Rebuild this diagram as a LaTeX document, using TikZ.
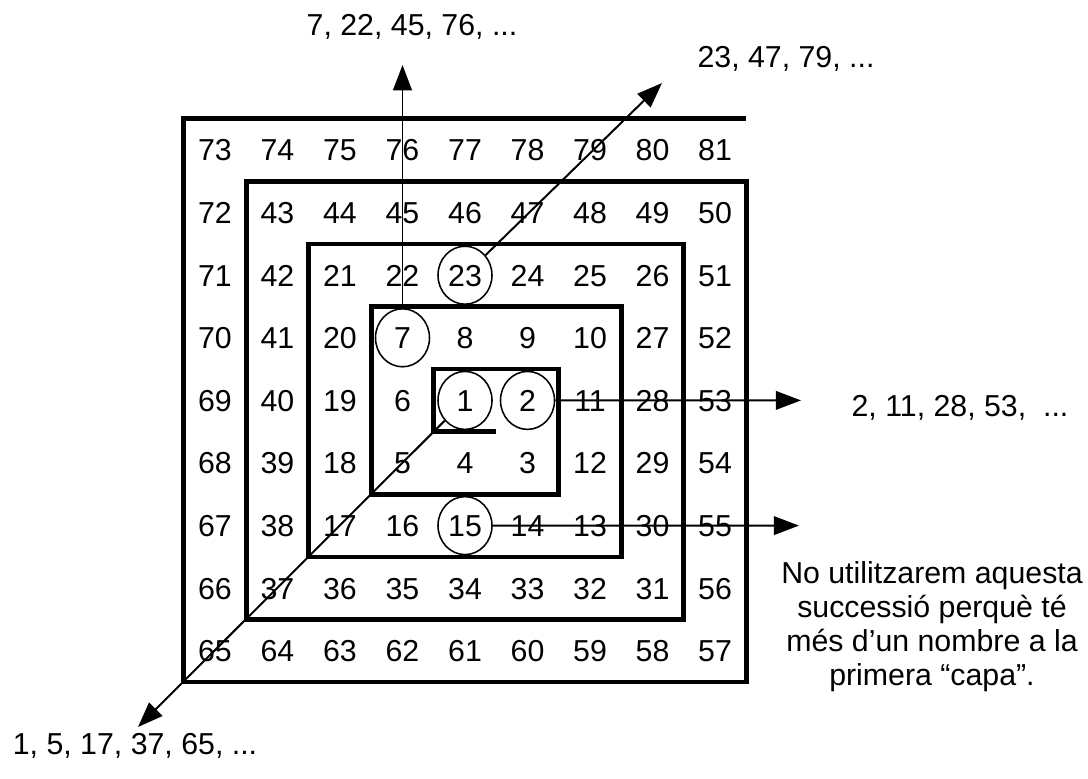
\documentclass[tikz,border=0pt]{standalone}
\usepackage{fontspec}
\setmainfont{Liberation Sans}
\usetikzlibrary{arrows.meta,shapes.geometric}
\begin{document}
\begin{tikzpicture}[x=0.016cm,y=-0.016cm,
  every node/.style={font=\fontsize{13.8pt}{15.5pt}\selectfont},
  num/.style={inner sep=0pt,text height=9.9pt,text depth=0pt},
  ring/.style={draw,ellipse,line width=0.7pt,minimum width=24.6pt,minimum height=26.4pt,inner sep=0pt},
  spiral/.style={line width=2.1pt,line join=miter},
  seqarrow/.style={line width=0.9pt,-{Triangle[length=11.5pt,width=8.5pt]}},
  label/.style={inner sep=0pt,text height=9.9pt,text depth=0pt}]
\useasboundingbox (0,0) rectangle (1088,778);
% grid numbers
\foreach \row [count=\r from 0] in {
  {73,74,75,76,77,78,79,80,81},
  {72,43,44,45,46,47,48,49,50},
  {71,42,21,22,23,24,25,26,51},
  {70,41,20,7,8,9,10,27,52},
  {69,40,19,6,1,2,11,28,53},
  {68,39,18,5,4,3,12,29,54},
  {67,38,17,16,15,14,13,30,55},
  {66,37,36,35,34,33,32,31,56},
  {65,64,63,62,61,60,59,58,57}}{
  \foreach \v [count=\c from 0] in \row {
    \node[num] (n\v) at ({215+62.5*\c},{150+62.6*\r}) {\v};
  }
}
% spiral
\draw[spiral] (496.25,431.7) -- (433.75,431.7) -- (433.75,369.1) -- (558.75,369.1)
  -- (558.75,494.3) -- (371.25,494.3) -- (371.25,306.5) -- (621.25,306.5)
  -- (621.25,556.9) -- (308.75,556.9) -- (308.75,243.9) -- (683.75,243.9)
  -- (683.75,619.5) -- (246.25,619.5) -- (246.25,181.3) -- (746.25,181.3)
  -- (746.25,682.1) -- (183.75,682.1) -- (183.75,118.7) -- (746.25,118.7);
% circles
\node[ring] (c1) at (n1) {};
\node[ring] (c2) at (n2) {};
\node[ring] (c7) at (n7) {};
\node[ring] (c23) at (n23) {};
\node[ring] (c15) at (n15) {};
% arrow ends
\coordinate (t7) at (402.5,65);
\coordinate (t23) at (662,83);
\coordinate (t2) at (801,400.4);
\coordinate (t15) at (799,525.6);
\coordinate (t1) at (138,727);
\draw[seqarrow] (c7) -- (t7);
\draw[seqarrow] (c23) -- (t23);
\draw[seqarrow] (c2) -- (t2);
\draw[seqarrow] (c15) -- (t15);
\draw[seqarrow] (c1) -- (t1);
% labels
\node[label] (l7) at (412,25) {7, 22, 45, 76, ...};
\node[label] (l23) at (786,57) {23, 47, 79, ...};
\node[label] (l2) at (960,406) {2, 11, 28, 53,\ \ ...};
\node[label] (l1) at (135,744) {1, 5, 17, 37, 65, ...};
\node[align=center,inner sep=0pt] (note) at (932,627) {No utilitzarem aquesta\\successió perquè té\\més d’un nombre a la\\primera “capa”.};
\end{tikzpicture}
\end{document}
